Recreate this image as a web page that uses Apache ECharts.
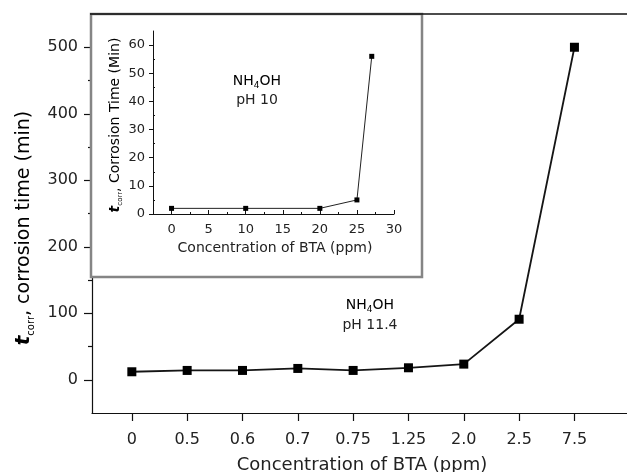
<!DOCTYPE html>
<html>
<head>
<meta charset="utf-8">
<script src="https://cdn.jsdelivr.net/npm/echarts@6/dist/echarts.min.js"></script>
<style>
  html, body { margin: 0; padding: 0; background: #fff; }
  #chart { width: 627px; height: 472px; }
</style>
</head>
<body>
<div id="chart"></div>
<script>
// Main plot: corrosion time vs. BTA concentration in NH4OH at pH 11.4
const categories = ['0', '0.5', '0.6', '0.7', '0.75', '1.25', '2.0', '2.5', '7.5'];
const mainTime = [12, 14, 14, 17, 14, 18, 23.5, 91, 500];
const mainYTicks = [0, 100, 200, 300, 400, 500];
const mainYMinorTicks = [50, 150, 250, 350, 450];

// Inset: corrosion time vs. BTA concentration in NH4OH at pH 10
const insetConc = [0, 10, 20, 25, 27];
const insetTime = [2, 2, 2, 5, 56];
const insetXTicks = [0, 5, 10, 15, 20, 25, 30];
const insetXMinorTicks = [2.5, 7.5, 12.5, 17.5, 22.5, 27.5];
const insetYMinorTicks = [5, 15, 25, 35, 45, 55];

const FONT = 'DejaVu Sans';
const INK = '#222';

const mainData = categories.map((c, i) => [i, mainTime[i]]);
const insetData = insetConc.map((c, i) => [c, insetTime[i]]);
const catIndex = categories.map((c, i) => i);

const chart = echarts.init(document.getElementById('chart'), null, { renderer: 'canvas' });

const subStyle = (size) => ({ fontFamily: FONT, fontSize: size, color: INK, verticalAlign: 'bottom', lineHeight: size });

chart.setOption({
  animation: false,
  backgroundColor: '#fff',
  grid: [
    { left: 92, right: 0, top: 14, bottom: 59 },
    { left: 153, right: 233, top: 31, bottom: 258 }
  ],
  xAxis: [
    {
      gridIndex: 0, type: 'value', min: -0.72, max: 8.95, position: 'bottom',
      axisLine: { onZero: false, lineStyle: { color: '#111', width: 1.2 } },
      axisTick: { customValues: catIndex, length: 8, lineStyle: { color: '#111', width: 1.2 } },
      axisLabel: {
        customValues: catIndex, margin: 19,
        fontFamily: FONT, fontSize: 16, color: INK,
        formatter: (v) => categories[Math.round(v)]
      },
      splitLine: { show: false }
    },
    {
      gridIndex: 1, type: 'value', min: -2.5, max: 30, z: 10, position: 'bottom',
      axisLine: { onZero: false, lineStyle: { color: '#111', width: 1 } },
      axisTick: { customValues: insetXTicks, inside: true, length: 4, lineStyle: { color: '#111' } },
      axisLabel: { customValues: insetXTicks, margin: 9, fontFamily: FONT, fontSize: 13, color: INK },
      splitLine: { show: false }
    },
    {
      gridIndex: 1, type: 'value', min: -2.5, max: 30, z: 10, position: 'bottom',
      axisLine: { show: false, onZero: false },
      axisTick: { customValues: insetXMinorTicks, inside: true, length: 2, lineStyle: { color: '#111' } },
      axisLabel: { show: false },
      splitLine: { show: false }
    }
  ],
  yAxis: [
    {
      gridIndex: 0, type: 'value', min: -50, max: 550, position: 'left',
      axisLine: { show: true, onZero: false, lineStyle: { color: '#111', width: 1.2 } },
      axisTick: { show: true, customValues: mainYTicks, length: 8, lineStyle: { color: '#111', width: 1.2 } },
      axisLabel: { customValues: mainYTicks, margin: 14, fontFamily: FONT, fontSize: 16, color: INK },
      splitLine: { show: false }
    },
    {
      gridIndex: 0, type: 'value', min: -50, max: 550, position: 'left',
      axisLine: { show: false, onZero: false },
      axisTick: { show: true, customValues: mainYMinorTicks, length: 4, lineStyle: { color: '#111', width: 1.2 } },
      axisLabel: { show: false },
      splitLine: { show: false }
    },
    {
      gridIndex: 1, type: 'value', min: 0, max: 65, interval: 10, z: 10, position: 'left',
      axisLine: { show: true, onZero: false, lineStyle: { color: '#111', width: 1 } },
      axisTick: { show: true, length: 4, lineStyle: { color: '#111' } },
      axisLabel: { margin: 8, fontFamily: FONT, fontSize: 13, color: INK, showMaxLabel: false },
      splitLine: { show: false }
    },
    {
      gridIndex: 1, type: 'value', min: 0, max: 65, position: 'left', z: 10,
      axisLine: { show: false, onZero: false },
      axisTick: { show: true, customValues: insetYMinorTicks, inside: true, length: 2, lineStyle: { color: '#111' } },
      axisLabel: { show: false },
      splitLine: { show: false }
    }
  ],
  series: [
    {
      type: 'line', xAxisIndex: 0, yAxisIndex: 0, data: mainData,
      symbol: 'rect', symbolSize: 9,
      itemStyle: { color: '#000' },
      lineStyle: { color: '#151515', width: 1.8 }
    },
    {
      type: 'line', xAxisIndex: 1, yAxisIndex: 2, data: insetData, z: 12,
      symbol: 'rect', symbolSize: 5,
      itemStyle: { color: '#000' },
      lineStyle: { color: '#222', width: 1 }
    }
  ],
  graphic: [
    // inset panel
    {
      type: 'rect', z: 5, silent: true,
      shape: { x: 91, y: 14, width: 331, height: 263 },
      style: { fill: '#fff', stroke: '#858585', lineWidth: 2.5 }
    },
    // top frame line of the main plot
    {
      type: 'line', z: 20, silent: true,
      shape: { x1: 90, y1: 14, x2: 627, y2: 14 },
      style: { stroke: '#111', lineWidth: 1.6 }
    },
    // main axis titles
    {
      type: 'text', z: 20, x: 362, y: 465,
      style: { text: 'Concentration of BTA (ppm)', fontFamily: FONT, fontSize: 18, fill: INK, align: 'center', verticalAlign: 'middle' }
    },
    {
      type: 'text', z: 20, x: 24, y: 228, rotation: Math.PI / 2,
      style: {
        text: '{t|t}{s|corr}{n|, corrosion time (min)}',
        align: 'center', verticalAlign: 'middle',
        rich: {
          t: { fontFamily: FONT, fontSize: 20, fontStyle: 'italic', fontWeight: 'bold', color: INK, lineHeight: 24 },
          s: subStyle(10),
          n: { fontFamily: FONT, fontSize: 19, color: INK, lineHeight: 24 }
        }
      }
    },
    // main annotation
    {
      type: 'text', z: 20, x: 370, y: 305,
      style: {
        text: '{n|NH}{s|4}{n|OH}', align: 'center', verticalAlign: 'middle',
        rich: { n: { fontFamily: FONT, fontSize: 14, color: INK, lineHeight: 18 }, s: subStyle(9) }
      }
    },
    {
      type: 'text', z: 20, x: 370, y: 325,
      style: { text: 'pH 11.4', fontFamily: FONT, fontSize: 14, fill: INK, align: 'center', verticalAlign: 'middle' }
    },
    // inset axis titles
    {
      type: 'text', z: 20, x: 275, y: 248,
      style: { text: 'Concentration of BTA (ppm)', fontFamily: FONT, fontSize: 14, fill: INK, align: 'center', verticalAlign: 'middle' }
    },
    {
      type: 'text', z: 20, x: 115, y: 125, rotation: Math.PI / 2,
      style: {
        text: '{t|t}{s|corr}{n|, Corrosion Time (Min)}',
        align: 'center', verticalAlign: 'middle',
        rich: {
          t: { fontFamily: FONT, fontSize: 14, fontStyle: 'italic', fontWeight: 'bold', color: INK, lineHeight: 18 },
          s: subStyle(7),
          n: { fontFamily: FONT, fontSize: 14, color: INK, lineHeight: 18 }
        }
      }
    },
    // inset annotation
    {
      type: 'text', z: 20, x: 257, y: 81,
      style: {
        text: '{n|NH}{s|4}{n|OH}', align: 'center', verticalAlign: 'middle',
        rich: { n: { fontFamily: FONT, fontSize: 14, color: INK, lineHeight: 18 }, s: subStyle(9) }
      }
    },
    {
      type: 'text', z: 20, x: 257, y: 100,
      style: { text: 'pH 10', fontFamily: FONT, fontSize: 14, fill: INK, align: 'center', verticalAlign: 'middle' }
    }
  ]
});
</script>
</body>
</html>
